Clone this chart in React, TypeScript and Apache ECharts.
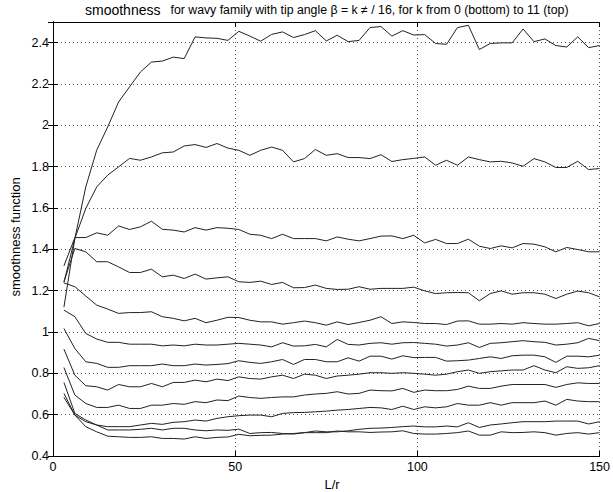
import React, { useEffect, useRef } from "react";
import * as echarts from "echarts";

const Lr = [3, 6, 9, 12, 15, 18, 21, 24, 27, 30, 33, 36, 39, 42, 45, 48, 51, 54, 57, 60, 63, 66, 69, 72, 75, 78, 81, 84, 87, 90, 93, 96, 99, 102, 105, 108, 111, 114, 117, 120, 123, 126, 129, 132, 135, 138, 141, 144, 147, 150];

const k0 = [0.684, 0.598, 0.542, 0.517, 0.496, 0.493, 0.49, 0.49, 0.493, 0.485, 0.485, 0.482, 0.493, 0.485, 0.49, 0.492,
  0.505, 0.498, 0.5, 0.501, 0.506, 0.509, 0.513, 0.513, 0.513, 0.521, 0.517, 0.517, 0.514, 0.516, 0.517, 0.522, 0.509,
  0.506, 0.506, 0.509, 0.513, 0.521, 0.501, 0.501, 0.517, 0.513, 0.514, 0.517, 0.513, 0.501, 0.509, 0.513, 0.506, 0.513];
const k1 = [0.703, 0.598, 0.566, 0.55, 0.526, 0.526, 0.526, 0.529, 0.534, 0.526, 0.534, 0.534, 0.526, 0.522, 0.526, 0.524,
  0.53, 0.509, 0.513, 0.514, 0.509, 0.506, 0.513, 0.521, 0.517, 0.517, 0.522, 0.529, 0.534, 0.535, 0.538, 0.542, 0.545,
  0.541, 0.541, 0.545, 0.541, 0.561, 0.538, 0.55, 0.555, 0.561, 0.566, 0.566, 0.566, 0.569, 0.569, 0.569, 0.555, 0.566];
const k2 = [0.756, 0.606, 0.574, 0.55, 0.542, 0.542, 0.542, 0.55, 0.558, 0.553, 0.563, 0.566, 0.574, 0.569, 0.582, 0.59,
  0.595, 0.598, 0.598, 0.59, 0.606, 0.61, 0.611, 0.614, 0.617, 0.622, 0.625, 0.63, 0.635, 0.633, 0.625, 0.641, 0.625,
  0.638, 0.633, 0.638, 0.654, 0.646, 0.646, 0.658, 0.646, 0.658, 0.658, 0.658, 0.666, 0.646, 0.674, 0.666, 0.663, 0.663];
const k3 = [0.828, 0.695, 0.654, 0.635, 0.635, 0.646, 0.63, 0.63, 0.646, 0.646, 0.654, 0.65, 0.663, 0.658, 0.671, 0.668,
  0.69, 0.683, 0.679, 0.683, 0.686, 0.686, 0.695, 0.7, 0.703, 0.711, 0.7, 0.703, 0.719, 0.716, 0.715, 0.727, 0.708,
  0.719, 0.716, 0.716, 0.722, 0.738, 0.727, 0.727, 0.738, 0.746, 0.746, 0.746, 0.746, 0.732, 0.746, 0.754, 0.751, 0.751];
const k4 = [0.917, 0.791, 0.74, 0.735, 0.719, 0.746, 0.735, 0.735, 0.751, 0.735, 0.756, 0.756, 0.767, 0.759, 0.772, 0.765,
  0.783, 0.775, 0.772, 0.783, 0.791, 0.775, 0.796, 0.791, 0.775, 0.787, 0.791, 0.796, 0.803, 0.803, 0.8, 0.803, 0.8,
  0.796, 0.791, 0.796, 0.808, 0.816, 0.8, 0.808, 0.812, 0.816, 0.816, 0.837, 0.816, 0.803, 0.832, 0.824, 0.827, 0.837];
const k5 = [1.017, 0.92, 0.856, 0.848, 0.829, 0.829, 0.837, 0.837, 0.837, 0.845, 0.837, 0.837, 0.845, 0.84, 0.843, 0.847,
  0.861, 0.853, 0.848, 0.856, 0.867, 0.843, 0.867, 0.867, 0.856, 0.856, 0.875, 0.859, 0.883, 0.883, 0.869, 0.885, 0.876,
  0.877, 0.877, 0.859, 0.861, 0.864, 0.872, 0.88, 0.872, 0.885, 0.888, 0.888, 0.88, 0.853, 0.883, 0.883, 0.88, 0.888];
const k6 = [1.106, 1.074, 0.993, 0.966, 0.95, 0.95, 0.941, 0.941, 0.941, 0.933, 0.937, 0.933, 0.941, 0.937, 0.937, 0.941,
  0.945, 0.941, 0.937, 0.928, 0.948, 0.932, 0.933, 0.94, 0.928, 0.964, 0.94, 0.937, 0.945, 0.948, 0.941, 0.948, 0.949,
  0.945, 0.941, 0.932, 0.937, 0.948, 0.925, 0.945, 0.948, 0.953, 0.958, 0.953, 0.95, 0.937, 0.941, 0.948, 0.969, 0.958];
const k7 = [1.238, 1.219, 1.174, 1.13, 1.111, 1.09, 1.094, 1.094, 1.098, 1.074, 1.066, 1.054, 1.066, 1.045, 1.057, 1.071,
  1.07, 1.057, 1.049, 1.049, 1.038, 1.045, 1.053, 1.045, 1.033, 1.049, 1.036, 1.046, 1.057, 1.074, 1.041, 1.049, 1.046,
  1.041, 1.041, 1.036, 1.053, 1.054, 1.038, 1.038, 1.041, 1.038, 1.045, 1.041, 1.038, 1.038, 1.041, 1.045, 1.03, 1.041];
const k8 = [1.243, 1.404, 1.388, 1.34, 1.34, 1.315, 1.288, 1.288, 1.304, 1.267, 1.275, 1.259, 1.28, 1.256, 1.262, 1.267,
  1.243, 1.24, 1.246, 1.23, 1.24, 1.214, 1.215, 1.227, 1.211, 1.206, 1.207, 1.219, 1.207, 1.211, 1.211, 1.211, 1.217,
  1.199, 1.186, 1.19, 1.191, 1.19, 1.151, 1.186, 1.199, 1.183, 1.19, 1.19, 1.183, 1.162, 1.183, 1.198, 1.19, 1.17];
const k9 = [1.32, 1.457, 1.457, 1.48, 1.468, 1.513, 1.496, 1.509, 1.536, 1.497, 1.493, 1.484, 1.505, 1.493, 1.505, 1.502,
  1.496, 1.473, 1.468, 1.452, 1.473, 1.452, 1.452, 1.452, 1.441, 1.46, 1.449, 1.441, 1.452, 1.464, 1.465, 1.452, 1.468,
  1.431, 1.448, 1.428, 1.428, 1.449, 1.415, 1.404, 1.417, 1.407, 1.428, 1.425, 1.412, 1.388, 1.409, 1.399, 1.388, 1.388];
const k10 = [1.24, 1.453, 1.598, 1.702, 1.759, 1.799, 1.84, 1.831, 1.847, 1.867, 1.871, 1.9, 1.907, 1.893, 1.912, 1.89,
  1.879, 1.855, 1.879, 1.895, 1.879, 1.823, 1.839, 1.883, 1.855, 1.863, 1.844, 1.844, 1.839, 1.858, 1.825, 1.834, 1.84,
  1.847, 1.807, 1.831, 1.807, 1.847, 1.834, 1.823, 1.826, 1.818, 1.802, 1.839, 1.823, 1.796, 1.796, 1.826, 1.786, 1.791];
const k11 = [1.12, 1.453, 1.702, 1.88, 1.992, 2.113, 2.186, 2.258, 2.306, 2.311, 2.33, 2.323, 2.428, 2.423, 2.421, 2.411,
  2.455, 2.432, 2.407, 2.44, 2.452, 2.425, 2.439, 2.458, 2.408, 2.436, 2.405, 2.411, 2.473, 2.478, 2.432, 2.458, 2.437,
  2.439, 2.396, 2.392, 2.473, 2.484, 2.367, 2.396, 2.399, 2.399, 2.466, 2.405, 2.418, 2.386, 2.379, 2.428, 2.376, 2.386];

const curves = [k0, k1, k2, k3, k4, k5, k6, k7, k8, k9, k10, k11];

const xTicks = { min: 0, max: 150, interval: 50 };
const yTicks = { min: 0.4, max: 2.5, interval: 0.2 };

const titleMain = "smoothness";
const titleRest = "for wavy family with tip angle \u03b2 = k \u2260 / 16, for k from 0 (bottom) to 11 (top)";
const xName = "L/r";
const yName = "smoothness function";

const FONT = "'Liberation Sans', Arial, Helvetica, sans-serif";

export default function App() {
  const ref = useRef<HTMLDivElement>(null);
  useEffect(() => {
    document.body.style.margin = "0";
    const chart = echarts.init(ref.current!, null, { renderer: "svg" });
    const axisLine = { show: true, lineStyle: { color: "#000", width: 1 } };
    const tick = { show: true, inside: true, length: 5, lineStyle: { color: "#000", width: 1 } };
    const grid = { show: true, lineStyle: { color: "#555", width: 1, type: [1, 3] } };
    const series = curves.map((vals, i) => ({
      name: "k=" + i,
      type: "line",
      data: Lr.map((x, j) => [x, vals[j]]),
      showSymbol: false,
      symbol: "none",
      silent: true,
      lineStyle: { color: "#222", width: 1 },
      xAxisIndex: 0,
      yAxisIndex: 0,
    }));
    chart.setOption({
      animation: false,
      backgroundColor: "#fff",
      textStyle: { fontFamily: FONT },
      title: {
        text: "{a|" + titleMain + "}  {b|" + titleRest + "}",
        left: 80,
        top: -4,
        textStyle: {
          fontFamily: FONT,
          fontWeight: "normal",
          rich: {
            a: { fontSize: 14, color: "#000", fontFamily: FONT, fontWeight: "normal" },
            b: { fontSize: 12.3, color: "#000", fontFamily: FONT, fontWeight: "normal" },
          },
        },
      },
      grid: { left: 53, right: 10, top: 22, bottom: 36 },
      xAxis: [
        {
          type: "value", ...xTicks, position: "bottom",
          axisLine, axisTick: tick,
          axisLabel: { color: "#000", fontSize: 12.5, margin: 4, fontFamily: FONT },
          splitLine: grid,
        },
        {
          type: "value", ...xTicks, position: "top",
          axisLine, axisTick: tick, axisLabel: { show: false }, splitLine: { show: false },
        },
      ],
      yAxis: [
        {
          type: "value", ...yTicks, position: "left",
          axisLine, axisTick: tick,
          axisLabel: { color: "#000", fontSize: 12.5, margin: 4, fontFamily: FONT, showMaxLabel: false },
          splitLine: grid,
        },
        {
          type: "value", ...yTicks, position: "right",
          axisLine, axisTick: tick, axisLabel: { show: false }, splitLine: { show: false },
        },
      ],
      graphic: [
        {
          type: "text", x: 332, y: 484,
          style: { text: xName, fontSize: 13, fontFamily: FONT, fill: "#000", align: "center", verticalAlign: "middle" },
        },
        {
          type: "text", x: 15, y: 237, rotation: Math.PI / 2,
          style: { text: yName, fontSize: 13, fontFamily: FONT, fill: "#000", align: "center", verticalAlign: "middle" },
        },
      ],
      series,
    });
    return () => chart.dispose();
  }, []);
  return <div ref={ref} style={{ width: 613, height: 492 }} />;
}
